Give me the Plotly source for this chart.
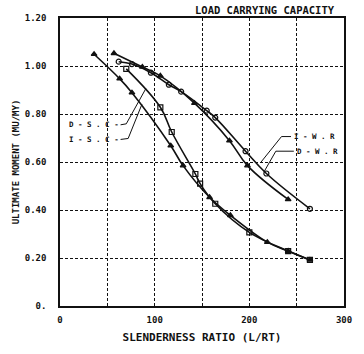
import plotly.graph_objects as go

# ---- data ----
isc_x = [36, 63, 76, 117, 130, 158, 180, 219, 241, 264]
isc_y = [1.049, 0.947, 0.889, 0.668, 0.585, 0.453, 0.378, 0.266, 0.229, 0.192]

dsc_x = [70, 106, 118, 143, 148, 164, 200, 241, 264]
dsc_y = [0.988, 0.828, 0.725, 0.550, 0.510, 0.426, 0.307, 0.229, 0.192]

dwr_x = [62, 76, 96, 115, 128, 155, 164, 196, 218, 264]
dwr_y = [1.018, 1.008, 0.972, 0.922, 0.893, 0.814, 0.785, 0.645, 0.552, 0.405]

iwr_x = [57, 87, 106, 142, 179, 198, 241]
iwr_y = [1.053, 0.996, 0.959, 0.845, 0.689, 0.585, 0.444]

x_ticks = [0, 50, 100, 150, 200, 250, 300]
x_labels = ["0", "", "100", "", "200", "", "300"]
y_ticks = [0, 0.2, 0.4, 0.6, 0.8, 1.0, 1.2]
y_labels = ["0.", "0.20", "0.40", "0.60", "0.80", "1.00", "1.20"]

series_labels = ["D - S . C -", "I - S . C -", "I - W . R", "D - W . R"]
label_pos = [(64, 0.755, "right"), (64, 0.694, "right"), (245, 0.706, "left"), (248, 0.645, "left")]
leaders = [
    [(64, 0.755), (70, 0.759), (90.7, 0.906)],
    [(64, 0.694), (72, 0.698), (86.6, 0.841)],
    [(244, 0.706), (234, 0.706), (212.4, 0.600)],
    [(247, 0.645), (228, 0.645), (215.5, 0.559)],
]

FONT = "DejaVu Sans Mono"
BLACK = "#111111"

fig = go.Figure()

def add(xs, ys, symbol):
    fig.add_trace(go.Scatter(
        x=xs, y=ys, mode="lines+markers",
        line=dict(color=BLACK, width=1.6, shape="spline", smoothing=1.1),
        marker=dict(symbol=symbol, size=5, color=BLACK,
                    line=dict(color=BLACK, width=1.2)),
        showlegend=False, hoverinfo="skip"))

add(isc_x, isc_y, "triangle-up")
add(dsc_x, dsc_y, "square-open")
add(dwr_x, dwr_y, "circle-open")
add(iwr_x, iwr_y, "triangle-up")

shapes = []
for pts in leaders:
    path = "M " + " L ".join(f"{px},{py}" for px, py in pts)
    shapes.append(dict(type="path", path=path, xref="x", yref="y",
                       line=dict(color=BLACK, width=1)))

annotations = []
for text, (ax_, ay_, anc) in zip(series_labels, label_pos):
    annotations.append(dict(x=ax_, y=ay_, xref="x", yref="y", text=text,
                            showarrow=False, xanchor=anc, yanchor="middle",
                            font=dict(family=FONT, size=7.5, color=BLACK, weight="bold")))
annotations.append(dict(x=0.975, y=1.027, xref="paper", yref="paper",
                        text="LOAD CARRYING CAPACITY", showarrow=False,
                        xanchor="right", yanchor="middle",
                        font=dict(family=FONT, size=10.5, color=BLACK, weight="bold")))

fig.update_layout(
    width=364, height=354,
    margin=dict(l=60, r=13, t=18, b=43),
    paper_bgcolor="white", plot_bgcolor="white",
    font=dict(family=FONT, color=BLACK, weight="bold"),
    shapes=shapes, annotations=annotations,
    xaxis=dict(range=[0, 300], tickvals=x_ticks, ticktext=x_labels,
               showgrid=True, gridcolor=BLACK, griddash="3px,2px", gridwidth=1,
               showline=True, linecolor=BLACK, linewidth=1.5, mirror=True,
               zeroline=False, ticks="", tickfont=dict(size=9, family=FONT, weight="bold"),
               ticklabelstandoff=4,
               title=dict(text="SLENDERNESS RATIO (L/RT)", standoff=10,
                          font=dict(size=11, family=FONT, weight="bold"))),
    yaxis=dict(range=[0, 1.2], tickvals=y_ticks, ticktext=y_labels,
               showgrid=True, gridcolor=BLACK, griddash="3px,2px", gridwidth=1,
               showline=True, linecolor=BLACK, linewidth=1.5, mirror=True,
               zeroline=False, ticks="", tickfont=dict(size=9, family=FONT, weight="bold"),
               ticklabelstandoff=10,
               title=dict(text="ULTIMATE MOMENT (MU/MY)", standoff=4,
                          font=dict(size=9, family=FONT, weight="bold"))),
)

fig.write_html("out.html")
